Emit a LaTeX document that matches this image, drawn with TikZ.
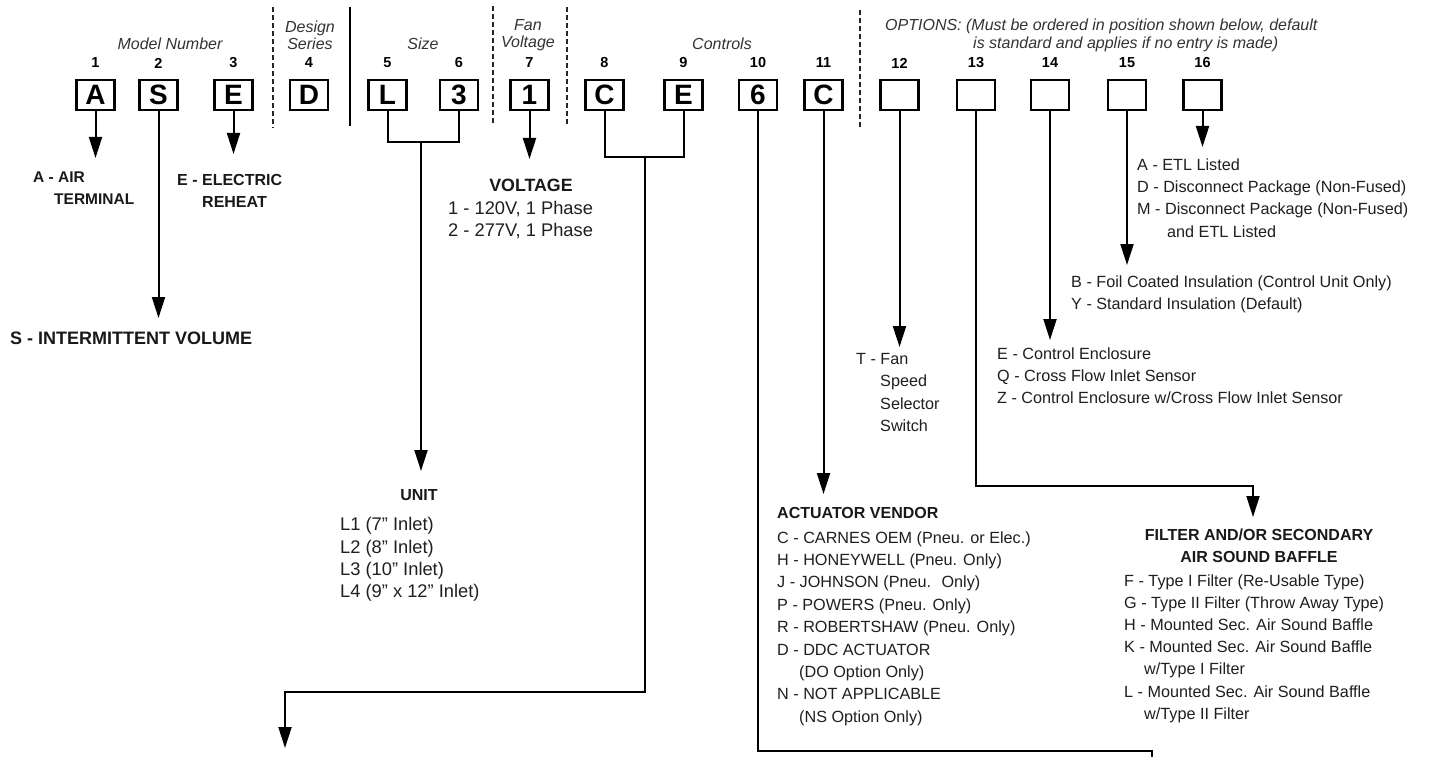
\documentclass[tikz,border=0pt]{standalone}
\usepackage{fontspec}
\setmainfont{Liberation Sans}
\usetikzlibrary{arrows.meta}
\begin{document}
\begin{tikzpicture}[x=1pt,y=-1pt,
  ln/.style={line width=2pt, draw=black},
  arr/.style={ln, -{Triangle[width=13pt,length=21pt]}},
  sep/.style={line width=2pt, draw=black!85, dash pattern=on 5pt off 3pt},
  box/.style={draw=black, line width=2.2pt, minimum width=38pt, minimum height=30pt, inner sep=0pt, font=\fontsize{28}{28}\selectfont\bfseries},
  num/.style={inner sep=0pt, font=\fontsize{14.5}{14.5}\selectfont\bfseries},
  head/.style={inner sep=0pt, align=center, text=black!80, font=\fontsize{16}{17.5}\selectfont\itshape},
  txt/.style={inner sep=0pt, anchor=north west, align=left, text=black!88, font=\fontsize{16.2}{22.3}\selectfont},
  bigtxt/.style={txt, font=\fontsize{18.3}{22.3}\selectfont},
  btxt/.style={inner sep=0pt, align=left, text=black!90, font=\fontsize{16}{22}\selectfont\bfseries}
]
\useasboundingbox (0,0) rectangle (1430,757);
\fill[white] (0,0) rectangle (1430,757);

% headings
\node[head] (hModel) at (170,44) {Model Number};
\node[head] (hDesign) at (310,35.5) {Design\\Series};
\node[head] (hSize) at (423,44) {Size};
\node[head] (hFan) at (528,35) {Fan\\Voltage};
\node[head] (hCtrl) at (722,44) {Controls};
\node[head, anchor=north west, align=left] (hOpt) at (885,19) {OPTIONS: (Must be ordered in position shown below, default\\\hspace*{88pt}is standard and applies if no entry is made)};

% separators
\draw[sep] (273,7) -- (273,128);
\draw[line width=2.4pt] (350,7) -- (350,126);
\draw[sep] (493,6) -- (493,125);
\draw[sep] (567,7) -- (567,125);
\draw[sep] (860,10) -- (860,128);

% boxes and numbers
\foreach \i/\x/\l in {1/95.5/A,2/158.5/S,3/233.5/E,4/309/D,5/387.5/L,6/459/3,7/529.5/1,8/604.5/C,9/683.5/E,10/758/6,11/823.5/C,12/899.5/\phantom{A},13/976/\phantom{A},14/1050/\phantom{A},15/1127/\phantom{A},16/1202.5/\phantom{A}}{
  \node[box] (b\i) at (\x,95) {\l};
  \node[num] (n\i) at (\x,63) {\i};
}

% left labels
\node[btxt, anchor=north west, font=\fontsize{15.5}{22}\selectfont\bfseries] (lA) at (33,171.5) {A - AIR\\\hspace*{21pt}TERMINAL};
\node[btxt, anchor=north west] (lE) at (177,174.2) {E - ELECTRIC\\\hspace*{25pt}REHEAT};
\node[btxt, anchor=north west, font=\fontsize{18}{22}\selectfont\bfseries] (lS) at (10,331.5) {S - INTERMITTENT VOLUME};

% voltage
\node[btxt, font=\fontsize{17.8}{22}\selectfont\bfseries] (lVt) at (531,185) {VOLTAGE};
\node[bigtxt] (lV) at (448,201.2) {1 - 120V, 1 Phase\\2 - 277V, 1 Phase};

% unit
\node[btxt] (lUt) at (419,495) {UNIT};
\node[bigtxt] (lU) at (340,517.5) {L1 (7{\char"201D} Inlet)\\L2 (8{\char"201D} Inlet)\\L3 (10{\char"201D} Inlet)\\L4 (9{\char"201D} x 12{\char"201D} Inlet)};

% options texts
\node[txt] (lT) at (856,353.2) {T - Fan\\\hspace*{24pt}Speed\\\hspace*{24pt}Selector\\\hspace*{24pt}Switch};
\node[txt] (lETL) at (1137,158.2) {A - ETL Listed\\D - Disconnect Package (Non-Fused)\\M - Disconnect Package (Non-Fused)\\\hspace*{30pt}and ETL Listed};
\node[txt] (lFoil) at (1071,275.2) {B - Foil Coated Insulation (Control Unit Only)\\Y - Standard Insulation (Default)};
\node[txt] (lEnc) at (997,347.2) {E - Control Enclosure\\Q - Cross Flow Inlet Sensor\\Z - Control Enclosure w/Cross Flow Inlet Sensor};

% actuator
\node[btxt, anchor=north west] (lActT) at (777,507.2) {ACTUATOR VENDOR};
\node[txt, font=\fontsize{16.2}{22.4}\selectfont] (lAct) at (777,531.2) {C - CARNES OEM (Pneu. or Elec.)\\H - HONEYWELL (Pneu. Only)\\J - JOHNSON (Pneu.~ Only)\\P - POWERS (Pneu. Only)\\R - ROBERTSHAW (Pneu. Only)\\D - DDC ACTUATOR\\\hspace*{22pt}(DO Option Only)\\N - NOT APPLICABLE\\\hspace*{22pt}(NS Option Only)};

% filter
\node[btxt, align=center] (lFt) at (1259,546) {FILTER AND/OR SECONDARY\\AIR SOUND BAFFLE};
\node[txt, font=\fontsize{16.2}{22.2}\selectfont] (lF) at (1124,574.2) {F - Type I Filter (Re-Usable Type)\\G - Type II Filter (Throw Away Type)\\H - Mounted Sec. Air Sound Baffle\\K - Mounted Sec. Air Sound Baffle\\\hspace*{20pt}w/Type I Filter\\L - Mounted Sec. Air Sound Baffle\\\hspace*{20pt}w/Type II Filter};

% connector coordinates
\coordinate (tA) at (95.5,158);
\coordinate (tS) at (158.5,318);
\coordinate (tE) at (233.5,154);
\coordinate (j6) at (459,142);
\coordinate (sz) at (421,142);
\coordinate (tU) at (421,471);
\coordinate (tV) at (529.5,159);
\coordinate (j9) at (683.5,157);
\coordinate (sc) at (645,157);
\coordinate (cc) at (645,692);
\coordinate (cl) at (285,692);
\coordinate (tC) at (285,748);
\coordinate (k10) at (1152,751);
\coordinate (e10) at (1152,770);
\coordinate (t11) at (823.5,494);
\coordinate (t12) at (899.5,347);
\coordinate (k13) at (1253,486);
\coordinate (t13) at (1253,517);
\coordinate (t14) at (1050,340);
\coordinate (t15) at (1127,265);
\coordinate (t16) at (1202.5,147);

% connectors
\draw[arr] (b1.south) -- (tA);
\draw[arr] (b2.south) -- (tS);
\draw[arr] (b3.south) -- (tE);
\draw[ln] (b5.south) |- (j6) -- (b6.south);
\draw[arr] (sz) -- (tU);
\draw[arr] (b7.south) -- (tV);
\draw[ln] (b8.south) |- (j9) -- (b9.south);
\draw[arr] (sc) -- (cc) -- (cl) -- (tC);
\draw[ln] (b10.south) |- (k10) -- (e10);
\draw[arr] (b11.south) -- (t11);
\draw[arr] (b12.south) -- (t12);
\draw[arr] (b13.south) |- (k13) -- (t13);
\draw[arr] (b14.south) -- (t14);
\draw[arr] (b15.south) -- (t15);
\draw[arr] (b16.south) -- (t16);
\end{tikzpicture}
\end{document}
